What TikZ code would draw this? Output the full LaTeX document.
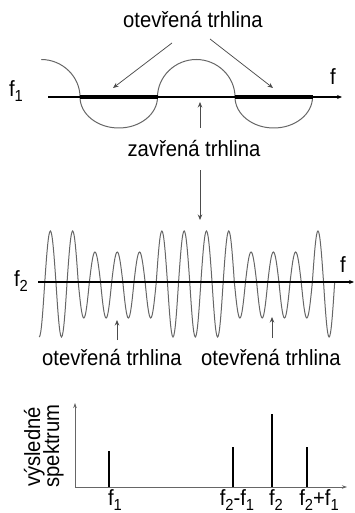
\documentclass[tikz,border=0pt]{standalone}
\usepackage{fontspec}
\setmainfont{Liberation Sans}[FakeStretch=0.92]
\usetikzlibrary{arrows.meta}
\newcommand{\lowidx}[1]{\raisebox{-5pt}{\fontsize{16}{16}\selectfont #1}}
\begin{document}
\begin{tikzpicture}[x=1pt,y=-1pt,
  lbl/.style={font=\fontsize{22}{24}\selectfont, inner sep=0pt, anchor=base},
  pointer/.style={draw=black!70, line width=0.75pt, -{Stealth[length=5.5pt,width=4.5pt]}},
  axisline/.style={line width=1.5pt, -{Stealth[length=5pt,width=4pt]}},
  spaxis/.style={draw=black!60, line width=0.8pt, -{Stealth[length=5pt,width=3.5pt]}},
  spike/.style={line width=2.5pt},
  wave/.style={draw=black!60, line width=1pt},
  bar/.style={line width=4pt},
]
\useasboundingbox (0,0) rectangle (355,513);

% ---------- top: f1 ----------
\draw[wave] (41.25,59.5) .. controls (62.65,59.5) and (80,76.8) .. (80,97)
  .. controls (80,114.1) and (97.35,128) .. (118.75,128)
  .. controls (140.15,128) and (157.5,114.1) .. (157.5,97)
  .. controls (157.5,76.8) and (174.85,59.5) .. (196.25,59.5)
  .. controls (217.65,59.5) and (235,76.8) .. (235,97)
  .. controls (235,114.1) and (252.35,128) .. (273.75,128)
  .. controls (295.15,128) and (312.5,114.1) .. (312.5,97);
\coordinate (ax1s) at (48,97);
\coordinate (ax1e) at (342,97);
\draw[axisline] (ax1s) -- (ax1e);
\coordinate (b1s) at (80,97);   \coordinate (b1e) at (157.5,97);
\coordinate (b2s) at (235,97);  \coordinate (b2e) at (312.5,97);
\draw[bar] (b1s) -- (b1e);
\draw[bar] (b2s) -- (b2e);

\node[lbl] (ftop) at (333,85) {f};
\node[lbl] (f1top) at (16,97) {f\lowidx{1}};

\node[lbl] (open1) at (193,28) {otevřená trhlina};
\coordinate (o1a) at (172,43);  \coordinate (o1b) at (113,88);
\coordinate (o2a) at (210,39);  \coordinate (o2b) at (273,88);
\draw[pointer] (o1a) -- (o1b);
\draw[pointer] (o2a) -- (o2b);

\node[lbl] (closed) at (194,157) {zavřená trhlina};
\coordinate (c1a) at (200,128); \coordinate (c1b) at (200,102);
\coordinate (c2a) at (200,170); \coordinate (c2b) at (200,220);
\draw[pointer] (c1a) -- (c1b);
\draw[pointer] (c2a) -- (c2b);

% ---------- middle: f2 ----------
\draw[wave] (39.2,337) cos (44.775,282)
  \foreach \j/\yy in {1/231,2/337,3/231,4/318,5/252,6/318,7/252,8/318,9/252,
                      10/318,11/231,12/337,13/231,14/337,15/231,16/337,17/231,
                      18/318,19/252,20/318,21/252,22/318,23/252,24/318,25/231,26/337}
  { sin ({39.2+11.15*\j},\yy) cos ({44.775+11.15*\j},282) };
\coordinate (ax2s) at (38,282);
\coordinate (ax2e) at (354,282);
\draw[axisline] (ax2s) -- (ax2e);

\node[lbl] (fmid) at (343,272) {f};
\node[lbl] (f2mid) at (21,286) {f\lowidx{2}};

\node[lbl] (open2) at (112,365) {otevřená trhlina};
\node[lbl] (open3) at (271,365) {otevřená trhlina};
\coordinate (p1a) at (117,340); \coordinate (p1b) at (117,320);
\coordinate (p2a) at (272,338); \coordinate (p2b) at (272,317);
\draw[pointer] (p1a) -- (p1b);
\draw[pointer] (p2a) -- (p2b);

% ---------- bottom: spectrum ----------
\coordinate (O) at (75,487);
\coordinate (yax) at (75,403);
\coordinate (xax) at (347,487);
\draw[spaxis] (O) -- (yax);
\draw[spaxis] (O) -- (xax);

\coordinate (s1b) at (109,487); \coordinate (s1t) at (109,451);
\coordinate (s2b) at (233,487); \coordinate (s2t) at (233,447);
\coordinate (s3b) at (272,487); \coordinate (s3t) at (272,414);
\coordinate (s4b) at (307,487); \coordinate (s4t) at (307,447);
\draw[spike] (s1b) -- (s1t);
\draw[spike] (s2b) -- (s2t);
\draw[spike] (s3b) -- (s3t);
\draw[spike] (s4b) -- (s4t);

\node[lbl, rotate=90] (ylab1) at (40,447) {výsledné};
\node[lbl, rotate=90] (ylab2) at (59,446) {spektrum};

\node[lbl] (l1) at (115,505) {f\lowidx{1}};
\node[lbl] (l2) at (237,505) {f\lowidx{2}-f\lowidx{1}};
\node[lbl] (l3) at (276,505) {f\lowidx{2}};
\node[lbl] (l4) at (319,505) {f\lowidx{2}+f\lowidx{1}};
\end{tikzpicture}
\end{document}
